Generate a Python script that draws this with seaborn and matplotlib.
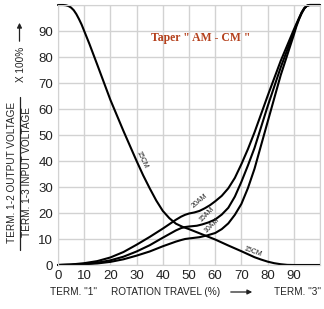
import numpy as np
import pandas as pd
import seaborn as sns
import matplotlib.pyplot as plt

# rotation travel (%) and output ratio (%)
x_20am = [0, 5, 10, 15, 20, 25, 30, 35, 40, 42.5, 45, 47, 48.5, 50, 52, 54, 56, 58, 60, 62.5, 65, 67.5, 70,
          72.5, 75, 77.5, 80, 85, 90, 91, 92, 93, 94, 95, 96, 100]
y_20am = [0, 0.2, 0.7, 1.5, 2.9, 5.0, 7.8, 10.8, 14.0, 15.7, 17.4, 18.6, 19.3, 19.8, 20.2, 20.8, 21.8, 23.0, 24.5,
          26.6, 29.5, 33.5, 38.8, 44.6, 51.0, 58.0, 65.0, 78.5, 90.5, 92.8, 95.0, 97.2, 98.8, 99.7, 100, 100]

x_15am = [0, 5, 10, 15, 20, 25, 30, 35, 40, 42.5, 45, 47, 48.5, 50, 53, 55, 57.5, 60, 62.5, 65, 67.5, 70,
          72.5, 75, 77.5, 80, 85, 90, 91, 92, 93, 94, 95, 96, 100]
y_15am = [0, 0.1, 0.4, 0.9, 1.8, 3.2, 5.2, 7.6, 10.5, 11.9, 13.3, 14.2, 14.6, 14.8, 15.1, 15.6, 16.4, 17.5, 19.4,
          22.0, 26.3, 32.0, 38.3, 45.0, 53.0, 61.0, 76.0, 89.5, 92.3, 94.8, 97.0, 98.7, 99.7, 100, 100]

x_10am = [0, 5, 10, 15, 20, 25, 30, 35, 40, 42.5, 45, 47, 48.5, 50, 54, 57, 60, 62.5, 65, 67.5, 70,
          72.5, 75, 77.5, 80, 85, 90, 91, 92, 93, 94, 95, 96, 100]
y_10am = [0, 0.1, 0.3, 0.6, 1.2, 2.2, 3.6, 5.2, 7.2, 8.1, 9.0, 9.6, 10.0, 10.2, 10.7, 11.4, 12.3, 13.8, 16.0,
          19.3, 23.5, 29.6, 37.0, 46.0, 55.0, 73.0, 88.5, 91.8, 94.5, 96.8, 98.6, 99.7, 100, 100]

x_15cm = [0, 2, 3, 4, 5, 6, 7, 8, 9, 10, 12, 15, 20, 25, 30, 32.5, 35, 37.5, 40, 42.5, 45, 47.5, 50,
          55, 60, 65, 70, 75, 77.5, 80, 82.5, 85, 87.5, 90, 100]
y_15cm = [100, 100, 99.9, 99.6, 99.0, 98.0, 96.5, 94.6, 92.5, 90.0, 85.0, 77.0, 63.5, 51.5, 40.0, 34.5, 29.5,
          24.8, 20.8, 18.0, 15.9, 14.7, 13.8, 11.8, 9.8, 7.5, 5.3, 3.0, 2.1, 1.3, 0.7, 0.3, 0.05, 0, 0]

curve_labels = ["20AM", "15AM", "10AM", "15CM"]
ticks = list(range(0, 100, 10))

curves = pd.concat([
    pd.DataFrame({"travel": x_20am, "ratio": y_20am, "taper": "20AM"}),
    pd.DataFrame({"travel": x_15am, "ratio": y_15am, "taper": "15AM"}),
    pd.DataFrame({"travel": x_10am, "ratio": y_10am, "taper": "10AM"}),
    pd.DataFrame({"travel": x_15cm, "ratio": y_15cm, "taper": "15CM"}),
])

sns.set_style("whitegrid", {"grid.color": "#d2d2d2", "axes.edgecolor": "#d2d2d2"})
plt.rcParams['font.family'] = ['Liberation Sans', 'DejaVu Sans']

W, H = 324, 309
fig = plt.figure(figsize=(W / 100, H / 100), dpi=100)
ax = fig.add_axes([58 / W, 1 - 265 / H, 262 / W, 260 / H])

for name in curve_labels:
    sns.lineplot(data=curves[curves["taper"] == name], x="travel", y="ratio",
                 color="black", lw=1.5, ax=ax, clip_on=False, estimator=None, sort=False)

ax.set_xlim(0, 100)
ax.set_ylim(0, 100)
ax.set_xticks(range(0, 101, 10))
ax.set_yticks(range(0, 101, 10))
ax.set_xticklabels([str(t) for t in ticks] + [""])
ax.set_yticklabels([str(t) for t in ticks] + [""])
ax.tick_params(length=0, labelsize=9.5, labelcolor="#222222", pad=3.5)
ax.grid(True, lw=1)
ax.set_xlabel("")
ax.set_ylabel("")

# curve labels
lab = dict(fontsize=5, color="#222222", ha="center", va="center")
ax.text(54.2, 24.7, "20AM", rotation=40, **lab)
ax.text(56.8, 19.3, "15AM", rotation=45, **lab)
ax.text(58.8, 15.3, "10AM", rotation=45, **lab)
ax.text(31.9, 40.4, "15CM", rotation=-65, **lab)
ax.text(74.5, 5.2, "15CM", rotation=-20, **lab)

ax.text(54.6, 87.3, 'Taper " AM - CM "', color="#b4401c", fontsize=8.5, fontweight="bold",
        family=["Liberation Serif", "DejaVu Serif"], ha="center", va="center")

# y axis label as a fraction
fig.text(12.5 / W, 1 - 172 / H, "TERM. 1-2 OUTPUT VOLTAGE", rotation=90, fontsize=7.2,
         ha="center", va="center", color="#222222")
fig.text(27.5 / W, 1 - 172 / H, "TERM. 1-3 INPUT VOLTAGE", rotation=90, fontsize=7.2,
         ha="center", va="center", color="#222222")
fig.add_artist(plt.Line2D([19.5 / W, 19.5 / W], [1 - 250 / H, 1 - 97 / H], color="#222222", lw=0.9))
fig.text(20.5 / W, 1 - 64 / H, "X 100%", rotation=90, fontsize=7.2,
         ha="center", va="center", color="#222222")
ax.annotate("", xy=(19.5 / W, 1 - 20 / H), xytext=(19.5 / W, 1 - 44 / H), xycoords="figure fraction",
            arrowprops=dict(arrowstyle="-|>", color="#222222", lw=0.9, mutation_scale=7))

# x axis label
xl = dict(fontsize=7.2, ha="center", va="center", color="#222222")
fig.text(74 / W, 1 - 292 / H, 'TERM. "1"', **xl)
fig.text(166 / W, 1 - 292 / H, "ROTATION TRAVEL (%)", **xl)
fig.text(298 / W, 1 - 292 / H, 'TERM. "3"', **xl)
ax.annotate("", xy=(255 / W, 1 - 292 / H), xytext=(228 / W, 1 - 292 / H), xycoords="figure fraction",
            arrowprops=dict(arrowstyle="-|>", color="#222222", lw=0.9, mutation_scale=7))

fig.savefig("out.png", dpi=100)
